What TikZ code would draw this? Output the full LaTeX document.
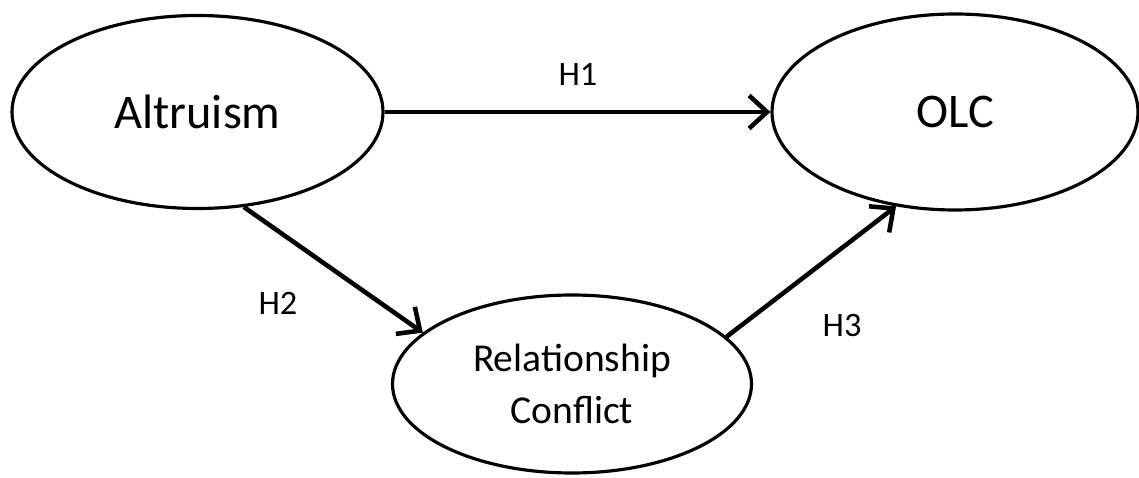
\documentclass[tikz,border=0pt]{standalone}
\usepackage{fontspec}
\setmainfont{Carlito}
\usetikzlibrary{shapes.geometric,arrows.meta}

\tikzset{
  construct/.style={draw, ellipse, line width=1.8pt, inner sep=0pt},
  hyp/.style={line width=2.6pt, -{Straight Barb[length=3.6mm,width=6.6mm,line width=2.6pt]}},
  hlabel/.style={font=\fontsize{19.5}{23}\selectfont}
}

\begin{document}
\begin{tikzpicture}[x=1cm,y=1cm]
\useasboundingbox (0,0) rectangle (22.78,9.56);

\node[construct, minimum width=7.42cm, minimum height=3.86cm,
  font=\fontsize{27.5}{33}\selectfont] (alt) at (3.95,7.32) {Altruism};
\node[construct, minimum width=7.32cm, minimum height=3.92cm,
  font=\fontsize{27.5}{33}\selectfont] (olc) at (19.1,7.32) {OLC};
\node[construct, minimum width=7.18cm, minimum height=3.56cm, align=center,
  font=\fontsize{22.5}{29.6}\selectfont] (rc) at (11.44,1.88) {Relationship\\Conflict};

\draw[hyp] (alt.east) -- (olc.west);
\draw[hyp] (alt.-64) -- (rc.161);
\draw[hyp] (rc.17) -- (olc.238);

\node[hlabel] (h1) at (11.56,8.08) {H1};
\node[hlabel] (h2) at (5.56,3.5) {H2};
\node[hlabel] (h3) at (16.84,3.04) {H3};
\end{tikzpicture}
\end{document}
